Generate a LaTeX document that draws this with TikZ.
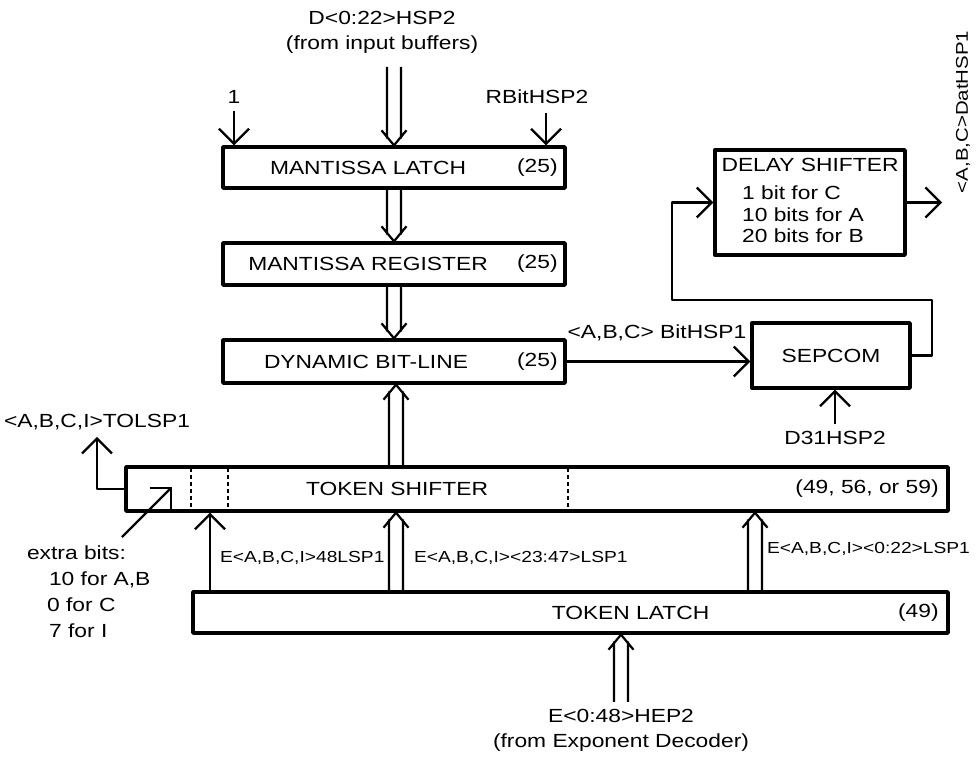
\documentclass[tikz,border=0pt]{standalone}
\usepackage{fontspec}
\setmainfont{Liberation Sans}[FakeStretch=1.2]
\usetikzlibrary{arrows.meta,calc}

\tikzset{
  boite/.style={draw,line width=1.7pt,inner sep=0pt},
  fil/.style={line width=1.1pt,-{Straight Barb[length=7.5pt,width=15pt]}},
  pointille/.style={line width=0.8pt,dash pattern=on 2pt off 1.5pt},
  petit/.style={font=\fontsize{8}{10}\selectfont},
  busbas/.style={line width=1.1pt,to path={
    ($(\tikztostart)+(-3.5pt,0pt)$) -- ($(\tikztotarget)+(-3.5pt,3.3pt)$)
    ($(\tikztostart)+(3.5pt,0pt)$) -- ($(\tikztotarget)+(3.5pt,3.3pt)$)
    ($(\tikztotarget)+(-6.25pt,7.5pt)$) -- (\tikztotarget) -- ($(\tikztotarget)+(6.25pt,7.5pt)$)}},
  bushaut/.style={line width=1.1pt,to path={
    ($(\tikztostart)+(-3.5pt,0pt)$) -- ($(\tikztotarget)+(-3.5pt,-3.3pt)$)
    ($(\tikztostart)+(3.5pt,0pt)$) -- ($(\tikztotarget)+(3.5pt,-3.3pt)$)
    ($(\tikztotarget)+(-6.25pt,-7.5pt)$) -- (\tikztotarget) -- ($(\tikztotarget)+(6.25pt,-7.5pt)$)}},
}

\begin{document}
\begin{tikzpicture}[x=0.5pt,y=-0.5pt,line join=round,
  every node/.style={font=\fontsize{9.5}{12.5}\selectfont}]
\useasboundingbox (0,0) rectangle (977,758);

% Entrees du latch
\node[align=center] (din) at (382,32) {D<0:22>HSP2\\(from input buffers)};
\coordinate (dtop) at (394,67);
\node (un) at (234,97) {1};
\node (rbit) at (537,97) {RBitHSP2};
\coordinate (rb) at (546,113);

% Mantisse
\node[boite,minimum width=171pt,minimum height=20.5pt] (latch) at (394,167.5) {};
\node (latchtxt) at ([xshift=-13pt]latch.center) {MANTISSA LATCH};
\node[anchor=east] (latchnb) at ([xshift=-1pt]latch.east) {(25)};

\node[boite,minimum width=171pt,minimum height=21pt] (reg) at (394,264) {};
\node (regtxt) at ([xshift=-13pt]reg.center) {MANTISSA REGISTER};
\node[anchor=east] (regnb) at ([xshift=-1pt]reg.east) {(25)};

\node[boite,minimum width=171pt,minimum height=21.5pt] (dyn) at (394,361.5) {};
\node (dyntxt) at ([xshift=-14pt]dyn.center) {DYNAMIC BIT-LINE};
\node[anchor=east] (dynnb) at ([xshift=-1pt]dyn.east) {(25)};

\draw[busbas] (dtop) to (latch.north);
\draw[fil] (un.south) -- (un.south |- latch.north);
\draw[fil] (rb) -- (rb |- latch.north);
\draw[busbas] (latch.south) to (reg.north);
\draw[busbas] (reg.south) to (dyn.north);

% Token shifter
\node[boite,minimum width=411pt,minimum height=22pt] (tshift) at (537,489) {};
\node (tshifttxt) at ([xshift=-70pt]tshift.center) {TOKEN SHIFTER};
\node[anchor=east] (tshiftnb) at ([xshift=-2pt]tshift.east) {(49, 56, or 59)};
\foreach \x in {191,228,568}
  \draw[pointille] (\x,468) -- (\x,510);

% Token latch
\node[boite,minimum width=377.5pt,minimum height=20.5pt] (tlatch) at (570.5,612.5) {};
\node (tlatchtxt) at ([xshift=30pt]tlatch.center) {TOKEN LATCH};
\node[anchor=east] (tlatchnb) at ([xshift=-2pt]tlatch.east) {(49)};

\coordinate (x48) at (210,0);
\coordinate (xmid) at (396,0);
\coordinate (xbas) at (755,0);
\draw[fil] (tlatch.north -| x48) -- (tshift.south -| x48);
\draw[bushaut] (tlatch.north -| xmid) to (tshift.south -| xmid);
\draw[bushaut] (tlatch.north -| xbas) to (tshift.south -| xbas);
\draw[bushaut] (tshift.north -| xmid) to (dyn.south -| xmid);
\node[petit,anchor=west] (e48) at (213,558) {E<A,B,C,I>48LSP1};
\node[petit,anchor=west] (e23) at (407,558) {E<A,B,C,I><23:47>LSP1};
\node[petit,anchor=west] (e00) at (760,549) {E<A,B,C,I><0:22>LSP1};

\node[align=center] (ehep) at (621,730) {E<0:48>HEP2\\(from Exponent Decoder)};
\draw[bushaut] (ehep.north) to (ehep.north |- tlatch.south);

% Sortie TOL et bits en plus
\node (tol) at (97,422) {<A,B,C,I>TOLSP1};
\draw[fil] (tshift.west) -| (tol.south);
\node[align=left,anchor=north west,font=\fontsize{9.5}{13}\selectfont] (extra) at (20,539)
  {extra bits:\\\hspace*{11pt}10 for A,B\\\hspace*{10pt}0 for C\\\hspace*{11pt}7 for I};
\coordinate (xqueue) at (122,537);
\coordinate (xcase) at (172,487);
\draw[fil] (xqueue) -- (xcase);

% SEPCOM et delay shifter
\node[boite,minimum width=79pt,minimum height=32.5pt] (sepcom) at (831,355.5) {SEPCOM};
\node (bith) at (657,333) {<A,B,C> BitHSP1};
\draw[fil] (dyn.east) -- (dyn.east -| sepcom.west);
\node (d31) at (835,438) {D31HSP2};
\draw[fil] (d31.north) -- (d31.north |- sepcom.south);

\node[boite,minimum width=95pt,minimum height=52.5pt] (delay) at (810,202.5) {};
\node (delaytxt) at ([yshift=-8.5pt]delay.north) {DELAY SHIFTER};
\node[align=left,anchor=north west,font=\fontsize{9.5}{10.75}\selectfont] (delaylst) at (735,179)
  {1 bit for C\\10 bits for A\\20 bits for B};
\coordinate (boucle) at (672,300);
\draw[fil] (sepcom.east) -- ++(10pt,0pt) |- (boucle) |- (delay.west);
\coordinate (dout) at (942,202.5);
\draw[fil] (delay.east) -- (dout);
\node[rotate=90,font=\fontsize{8.5}{10}\selectfont] (dat) at (963,112) {<A,B,C>DatHSP1};

\end{tikzpicture}
\end{document}
